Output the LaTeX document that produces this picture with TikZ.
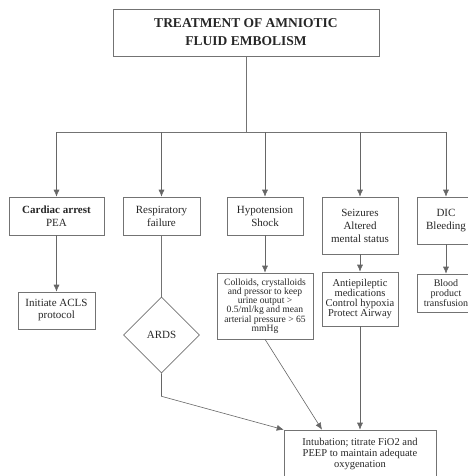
\documentclass[tikz,border=0pt]{standalone}
\usepackage{fontspec}
\setmainfont{Liberation Serif}
\usetikzlibrary{shapes.geometric,arrows.meta}

\begin{document}
\begin{tikzpicture}[
		x=1pt,
		y=-1pt,
		line width=0.6pt,
		every node/.style={
			shape=rectangle,
			draw=black!55,
			text=black!85,
			align=center,
			inner sep=2pt,
			line width=0.6pt,
		},
		link/.style={draw=black!55},
		flow/.style={-{Latex[length=7pt,width=6pt]}, draw=black!60},
		cause/.style={font=\fontsize{11}{13}\selectfont},
		remedy/.style={font=\fontsize{10.5}{9.8}\selectfont},
	]
		\useasboundingbox (0,0) rectangle (467,476);

		\node (title) at (246,32.5) [minimum width=266pt, minimum height=47pt,
			font=\fontsize{13.5}{18}\selectfont\bfseries]
			{TREATMENT OF AMNIOTIC\\FLUID EMBOLISM};

		\node[cause, minimum width=95pt, minimum height=38pt] (cardiac) at (56.5,216)
			{\textbf{Cardiac arrest}\\PEA};
		\node[cause, minimum width=77pt, minimum height=38pt] (resp) at (161.5,216)
			{Respiratory\\failure};
		\node[cause, minimum width=76pt, minimum height=38pt] (hypo) at (265,216)
			{Hypotension\\Shock};
		\node[cause, minimum width=76pt, minimum height=57pt] (seiz) at (360,225.5)
			{Seizures\\Altered\\mental status};
		\node[cause, minimum width=58pt, minimum height=47pt] (dic) at (446,220.5)
			{DIC\\Bleeding};

		\node[cause, font=\fontsize{11}{12}\selectfont, minimum width=77pt, minimum height=37pt]
			(acls) at (56.5,310.5) {Initiate ACLS\\protocol};
		\node[cause, shape=diamond, minimum width=76pt, minimum height=76pt]
			(ards) at (161.5,335) {ARDS};
		\node[font=\fontsize{9.6}{9.2}\selectfont, minimum width=96pt, minimum height=66pt]
			(colloids) at (265,306)
			{Colloids, crystalloids\\and pressor to keep\\urine output >\\0.5/ml/kg and mean\\arterial pressure > 65\\mmHg};
		\node[remedy, minimum width=76pt, minimum height=54pt] (antiep) at (360,299)
			{Antiepileptic\\medications\\Control hypoxia\\Protect Airway};
		\node[remedy, font=\fontsize{10}{10}\selectfont, minimum width=58pt, minimum height=38pt]
			(blood) at (446,293) {Blood\\product\\transfusion};

		\node[font=\fontsize{10.5}{11}\selectfont, minimum width=152pt, minimum height=48pt]
			(intub) at (360,454)
			{Intubation; titrate FiO2 and\\PEEP to maintain adequate\\oxygenation};

		\coordinate (bus) at (246,132);
		\coordinate (kink) at ([yshift=-23pt]ards.south);

		\draw[link] (title) -- (bus);
		\draw[link] (cardiac |- bus) -- (dic |- bus);
		\foreach \n in {cardiac,resp,hypo,seiz,dic}
			\draw[flow] (\n |- bus) -- (\n);

		\draw[flow] (cardiac) -- (acls);
		\draw[link] (resp) -- (ards);
		\draw[flow] (hypo) -- (colloids);
		\draw[flow] (seiz) -- (antiep);
		\draw[flow] (dic) -- (blood);

		\draw[flow] (ards.south) -- (kink) -- (intub.north west);
		\draw[flow] (colloids.south) -- ([xshift=-38pt]intub.north);
		\draw[flow] (antiep) -- (intub);
	\end{tikzpicture}
\end{document}
